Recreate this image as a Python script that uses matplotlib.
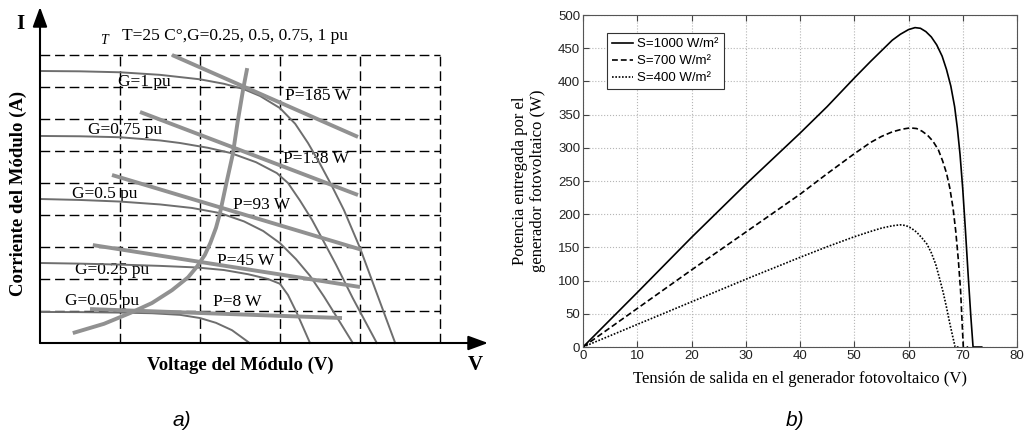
import matplotlib
matplotlib.use("Agg")
import matplotlib.pyplot as plt

# ---------------- Left panel (schematic I-V, grid-cell units) ----------------
g100_v = [0.0, 0.5, 1.0, 1.5, 2.0, 2.3, 2.54, 2.75, 3.0, 3.19, 3.35, 3.5, 3.65, 3.8, 4.0, 4.21, 4.44]
g100_i = [8.5, 8.49, 8.46, 8.38, 8.24, 8.1, 7.94, 7.72, 7.34, 6.85, 6.25, 5.6, 4.9, 4.15, 2.97, 1.55, 0.0]
g075_v = [0.0, 0.5, 1.0, 1.5, 1.75, 2.1, 2.38, 2.7, 2.96, 3.1, 3.25, 3.4, 3.54, 3.7, 3.91, 4.21]
g075_i = [6.47, 6.46, 6.43, 6.33, 6.25, 6.1, 5.94, 5.65, 5.31, 5.0, 4.45, 3.85, 3.2, 2.45, 1.4, 0.0]
g050_v = [0.0, 0.5, 1.0, 1.5, 1.9, 2.25, 2.55, 2.79, 3.0, 3.2, 3.375, 3.55, 3.71, 3.91]
g050_i = [4.5, 4.47, 4.42, 4.33, 4.22, 4.06, 3.8, 3.5, 3.12, 2.62, 2.1, 1.45, 0.81, 0.0]
g025_v = [0.0, 0.5, 1.0, 1.5, 1.96, 2.3, 2.6, 2.85, 3.0, 3.1, 3.21, 3.375]
g025_i = [2.5, 2.48, 2.45, 2.41, 2.36, 2.28, 2.15, 2.0, 1.85, 1.5, 0.94, 0.0]
g005_v = [0.0, 0.5, 1.0, 1.4, 1.75, 2.0, 2.2, 2.4, 2.62]
g005_i = [0.97, 0.965, 0.95, 0.93, 0.88, 0.78, 0.63, 0.4, 0.0]

mpp_v = [0.41, 0.8, 1.13, 1.4, 1.65, 1.85, 1.96, 2.06, 2.13, 2.2, 2.25, 2.33, 2.41, 2.47, 2.54, 2.59]
mpp_i = [0.31, 0.6, 0.94, 1.25, 1.65, 2.05, 2.38, 2.75, 3.13, 3.6, 4.06, 5.0, 5.9, 6.9, 7.94, 8.59]

p185_v, p185_i = [1.65, 3.975], [9.0, 6.44]
p138_v, p138_i = [1.25, 3.975], [7.22, 4.625]
p93_v, p93_i = [0.9, 4.025], [5.25, 2.91]
p45_v, p45_i = [0.66, 4.0], [3.06, 1.75]
p8_v, p8_i = [0.625, 3.775], [1.06, 0.78]

g_labels = ["G=1 pu", "G=0.75 pu", "G=0.5 pu", "G=0.25 pu", "G=0.05 pu"]
p_labels = ["P=185 W", "P=138 W", "P=93 W", "P=45 W", "P=8 W"]

# ---------------- Right panel (P-V curves) ----------------
s1000_v = [0, 10, 20, 30, 40, 45, 50, 53, 55, 57, 58.5, 60, 61.2, 62.2, 63.2, 64.2, 65.2, 66.2,
           67, 67.8, 68.5, 69, 69.5, 70, 70.5, 71, 71.5, 71.9, 73.5]
s1000_p = [0, 82, 165, 245, 322, 362, 405, 430, 446, 462, 471, 478, 481, 480, 475, 467, 455, 438,
           418, 393, 362, 330, 290, 238, 175, 108, 45, 0, 0]
s700_v = [0, 10, 20, 30, 40, 45, 50, 53, 55, 57, 58.8, 60.3, 61.5, 62.5, 63.5, 64.5, 65.5, 66.3,
          67, 67.6, 68.2, 68.7, 69.2, 69.6, 70.1, 71]
s700_p = [0, 58, 116, 173, 230, 261, 291, 308, 317, 324, 328, 330, 329, 325, 319, 310, 297, 280,
          262, 240, 210, 175, 130, 85, 0, 0]
s400_v = [0, 10, 20, 30, 40, 45, 50, 53, 55, 57, 58.4, 59.5, 60.5, 61.5, 62.5, 63.4, 64.2, 65,
          65.8, 66.4, 67, 67.6, 68.2, 68.6, 69.5]
s400_p = [0, 34, 68, 102, 135, 151, 166, 174, 179, 182.5, 184, 183, 179, 173, 164, 155, 142, 125,
          101, 82, 60, 36, 14, 0, 0]
s_labels = ["S=1000 W/m²", "S=700 W/m²", "S=400 W/m²"]

x_ticks = [0, 10, 20, 30, 40, 50, 60, 70, 80]
y_ticks = [0, 50, 100, 150, 200, 250, 300, 350, 400, 450, 500]

SERIF = "Liberation Serif"
SANS = "Liberation Sans"

fig = plt.figure(figsize=(10.27, 4.41), dpi=100)

# ======== Left panel ========
axL = fig.add_axes([0, 0, 500 / 1027, 1])
axL.set_xlim(-0.5, 5.75)
axL.set_ylim(-98 / 32, 343 / 32)
axL.axis("off")

for k in range(1, 10):
    axL.plot([0, 5], [k, k], color="black", lw=1.0, dashes=(7, 3.5), zorder=1)
for k in range(1, 6):
    axL.plot([k, k], [0, 9], color="black", lw=1.0, dashes=(7, 3.5), zorder=1)

thin = dict(color="#6e6e6e", lw=1.4, zorder=3, solid_joinstyle="round")
for v, i in [(g100_v, g100_i), (g075_v, g075_i), (g050_v, g050_i),
             (g025_v, g025_i), (g005_v, g005_i)]:
    axL.plot(v, i, **thin)

thick = dict(color="#919191", lw=2.8, solid_capstyle="butt", zorder=4,
             solid_joinstyle="round")
for v, i in [(p185_v, p185_i), (p138_v, p138_i), (p93_v, p93_i),
             (p45_v, p45_i), (p8_v, p8_i), (mpp_v, mpp_i)]:
    axL.plot(v, i, **thick)

# axes with arrows
arrow = dict(arrowstyle="-|>,head_length=0.6,head_width=0.22", lw=1.5,
             color="black", mutation_scale=20, shrinkA=0, shrinkB=0)
axL.annotate("", xy=(0, 10.5), xytext=(0, 0), arrowprops=arrow, zorder=5)
axL.annotate("", xy=(5.6, 0), xytext=(0, 0), arrowprops=arrow, zorder=5)

fs = 12.5
axL.text(-0.24, 9.97, "I", fontfamily=SERIF, fontweight="bold", fontsize=15,
         ha="center", va="center")
axL.text(5.44, -0.69, "V", fontfamily=SERIF, fontweight="bold", fontsize=15,
         ha="center", va="center")
axL.text(0.8, 9.45, "T", fontfamily=SERIF, fontstyle="italic", fontsize=10,
         ha="center", va="center")
axL.text(1.02, 9.59, "T=25 C°,G=0.25, 0.5, 0.75, 1 pu", fontfamily=SERIF,
         fontsize=fs, ha="left", va="center")

g_pos = [(0.98, 8.16), (0.6, 6.66), (0.4, 4.67), (0.44, 2.28), (0.31, 1.31)]
for lab, (x, y) in zip(g_labels, g_pos):
    axL.text(x, y, lab, fontfamily=SERIF, fontsize=fs, ha="left", va="center",
             zorder=2)
p_pos = [(3.06, 7.72), (3.04, 5.75), (2.41, 4.31), (2.21, 2.56), (2.16, 1.28)]
for lab, (x, y) in zip(p_labels, p_pos):
    axL.text(x, y, lab, fontfamily=SERIF, fontsize=fs, ha="left", va="center",
             zorder=2)

axL.text(2.5, -0.69, "Voltage del Módulo (V)", fontfamily=SERIF,
         fontweight="bold", fontsize=13.5, ha="center", va="center")
axL.text(-0.27, 4.66, "Corriente del Módulo (A)", fontfamily=SERIF,
         fontweight="bold", fontsize=13.5, ha="center", va="center",
         rotation=90)

# ======== Right panel ========
axR = fig.add_axes([583 / 1027, 94 / 441, 434 / 1027, 332 / 441])
axR.plot(s1000_v, s1000_p, color="black", lw=1.2, label=s_labels[0])
axR.plot(s700_v, s700_p, color="black", lw=1.2, ls=(0, (3.5, 1.8)),
         label=s_labels[1])
axR.plot(s400_v, s400_p, color="black", lw=1.2, ls=(0, (1, 1)),
         label=s_labels[2])
axR.set_xlim(0, 80)
axR.set_ylim(0, 500)
axR.set_xticks(x_ticks)
axR.set_yticks(y_ticks)
axR.grid(True, ls=":", color="#b5b5b5", lw=0.8)
axR.set_axisbelow(True)
axR.tick_params(direction="in", top=True, right=True, length=4, width=0.8,
                labelsize=9.5, pad=2, color="#444444", labelcolor="#222222")
for lab in axR.get_xticklabels() + axR.get_yticklabels():
    lab.set_fontfamily(SANS)
for sp in axR.spines.values():
    sp.set_color("#555555")
    sp.set_linewidth(0.8)

axR.set_xlabel("Tensión de salida en el generador fotovoltaico (V)",
               fontfamily=SERIF, fontsize=12)
axR.xaxis.set_label_coords(0.5, -0.072)
axR.set_ylabel("Potencia entregada por el\ngenerador fotovoltaico (W)",
               fontfamily=SERIF, fontsize=12, linespacing=1.15)
axR.yaxis.set_label_coords(-0.086, 0.5)

leg = axR.legend(loc="upper left", bbox_to_anchor=(0.0553, 0.946),
                 borderaxespad=0, fancybox=False, framealpha=1,
                 edgecolor="#333333", handlelength=1.6, handletextpad=0.3,
                 labelspacing=0.35, borderpad=0.4,
                 prop=dict(family=SANS, size=9.5))
leg.get_frame().set_linewidth(0.8)

fig.text(182 / 1027, 1 - 420 / 441, "a)", fontfamily=SANS, fontstyle="italic",
         fontsize=15, ha="center", va="center")
fig.text(795 / 1027, 1 - 420 / 441, "b)", fontfamily=SANS, fontstyle="italic",
         fontsize=15, ha="center", va="center")

fig.savefig("out.png", dpi=100)
